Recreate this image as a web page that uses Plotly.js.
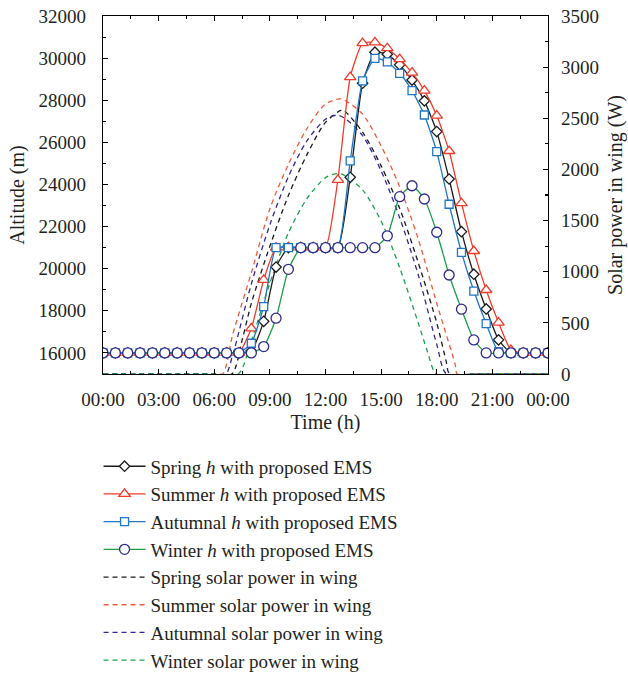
<!DOCTYPE html>
<html>
<head>
<meta charset="utf-8">
<script src="https://cdn.plot.ly/plotly-3.0.1.min.js"></script>
<style>
  html, body { margin: 0; padding: 0; background: #fff; }
  #chart { width: 628px; height: 673px; }
</style>
</head>
<body>
<div id="chart"></div>
<script>
// Flight altitude samples, one every 40 minutes (hours of the day)
const altHours = [0, 0.667, 1.333, 2, 2.667, 3.333, 4, 4.667, 5.333, 6, 6.667, 7.333,
  8, 8.667, 9.333, 10, 10.667, 11.333, 12, 12.667, 13.333, 14, 14.667, 15.333,
  16, 16.667, 17.333, 18, 18.667, 19.333, 20, 20.667, 21.333, 22, 22.667, 23.333, 24];

const springAlt = [16000, 16000, 16000, 16000, 16000, 16000, 16000, 16000, 16000, 16000, 16000, 16000,
  16100, 17500, 20080, 21000, 21000, 21000, 21000, 21000, 24340, 28810, 30280, 30180,
  29680, 28960, 27970, 26510, 24260, 21760, 19740, 18090, 16620, 16000, 16000, 16000, 16000];

const summerAlt = [16000, 16000, 16000, 16000, 16000, 16000, 16000, 16000, 16000, 16000, 16000, 16000,
  17170, 19470, 21000, 21000, 21000, 21000, 21000, 24220, 29100, 30710, 30750, 30470,
  29950, 29310, 28460, 27270, 25590, 23110, 20840, 18990, 17440, 16140, 16000, 16000, 16000];

const autumnAlt = [16000, 16000, 16000, 16000, 16000, 16000, 16000, 16000, 16000, 16000, 16000, 16000,
  16460, 18200, 21000, 21000, 21000, 21000, 21000, 21000, 25120, 28920, 29990, 29820,
  29280, 28460, 27300, 25560, 23060, 20780, 18940, 17390, 16050, 16000, 16000, 16000, 16000];

const winterAlt = [16000, 16000, 16000, 16000, 16000, 16000, 16000, 16000, 16000, 16000, 16000, 16000,
  16000, 16300, 17650, 19970, 21000, 21000, 21000, 21000, 21000, 21000, 21000, 21560,
  23420, 23940, 23310, 21730, 19700, 18080, 16620, 16000, 16000, 16000, 16000, 16000, 16000];

// Solar power collected by the wing (W)
const springPowHours = [0, 6, 6.95, 7.5, 8, 9, 10, 11, 12, 12.85, 13, 14, 15, 16, 17, 18, 18.5, 18.7, 20, 24];
const springPow      = [0, 0, 0, 330, 690, 1250, 1745, 2145, 2460, 2580, 2575, 2365, 2035, 1620, 1090, 500, 130, 0, 0, 0];

const summerPowHours = [0, 6, 6.45, 7, 8, 9, 10, 11, 12, 12.75, 13, 14, 15, 16, 17, 18, 19, 19.1, 20, 24];
const summerPow      = [0, 0, 0, 390, 990, 1615, 2050, 2400, 2640, 2690, 2680, 2540, 2230, 1830, 1320, 690, 90, 0, 0, 0];

const autumnPowHours = [0, 6, 6.62, 7, 8, 9, 10, 11, 12, 12.57, 13, 14, 15, 16, 17, 18, 18.53, 20, 24];
const autumnPow      = [0, 0, 0, 190, 880, 1460, 1930, 2280, 2490, 2530, 2505, 2330, 1985, 1528, 970, 290, 0, 0, 0];

const winterPowHours = [0, 6, 7.29, 8, 9, 10, 11, 12, 12.64, 13, 14, 15, 16, 17, 17.5, 17.99, 20, 24];
const winterPow      = [0, 0, 0, 325, 890, 1380, 1715, 1920, 1960, 1945, 1800, 1495, 1040, 500, 220, 0, 0, 0];

const xTickVals = [0, 3, 6, 9, 12, 15, 18, 21, 24];
const xTickText = ['00:00', '03:00', '06:00', '09:00', '12:00', '15:00', '18:00', '21:00', '00:00'];

const FONT = 'Liberation Serif, Times New Roman, serif';
const INK = '#231f20';

function powerTrace(name, xs, ys, color, rank) {
  return {
    x: xs, y: ys, name: name, yaxis: 'y', type: 'scatter', mode: 'lines',
    line: { color: color, width: 1.3, dash: '5px,4px', shape: 'spline', smoothing: 0.8 },
    legendrank: rank, hoverinfo: 'skip'
  };
}

function altTrace(name, ys, lineColor, symbol, size, edgeColor, rank) {
  return {
    x: altHours, y: ys, name: name, yaxis: 'y2', type: 'scatter', mode: 'lines+markers',
    line: { color: lineColor, width: 1.3, shape: 'spline', smoothing: 0.5 },
    marker: { symbol: symbol, size: size, color: '#ffffff', line: { color: edgeColor, width: 1.3 } },
    legendrank: rank, hoverinfo: 'skip'
  };
}

const data = [
  powerTrace('Spring solar power in wing', springPowHours, springPow, '#1a1a1a', 5),
  powerTrace('Summer solar power in wing', summerPowHours, summerPow, '#f25a3c', 6),
  powerTrace('Autumnal solar power in wing', autumnPowHours, autumnPow, '#33279a', 7),
  powerTrace('Winter solar power in wing', winterPowHours, winterPow, '#1aa24a', 8),
  altTrace('Spring <i>h</i> with proposed EMS', springAlt, '#1a1a1a', 'diamond', 8, '#1a1a1a', 1),
  altTrace('Summer <i>h</i> with proposed EMS', summerAlt, '#f03a2a', 'triangle-up', 10, '#f03a2a', 2),
  altTrace('Autumnal <i>h</i> with proposed EMS', autumnAlt, '#1f76c6', 'square', 8, '#1f76c6', 3),
  altTrace('Winter <i>h</i> with proposed EMS', winterAlt, '#1a9e48', 'circle', 10, '#2d2a8f', 4)
];

const axisCommon = {
  automargin: false,
  showline: true, linecolor: '#000', linewidth: 1.2,
  showgrid: false, zeroline: false,
  ticks: 'inside', ticklen: 5, tickwidth: 1.1, tickcolor: '#000',
  tickfont: { family: FONT, size: 19, color: INK }
};

const layout = {
  width: 628, height: 673,
  margin: { l: 103, r: 80, t: 16, b: 299, autoexpand: false },
  paper_bgcolor: '#fff', plot_bgcolor: '#fff',
  font: { family: FONT, color: INK },
  showlegend: true,
  legend: {
    x: -0.01, y: -0.205, xanchor: 'left', yanchor: 'top',
    font: { family: FONT, size: 19, color: INK },
    itemwidth: 42,
    traceorder: 'normal', bgcolor: 'rgba(0,0,0,0)', borderwidth: 0,
    tracegroupgap: 0
  },
  xaxis: Object.assign({}, axisCommon, {
    range: [0, 24], tickmode: 'array', tickvals: xTickVals, ticktext: xTickText,
    mirror: 'ticks', ticklabelstandoff: 8,
    minor: { tickmode: 'linear', tick0: 0, dtick: 1.5, ticks: 'inside', ticklen: 3, tickcolor: '#000' },
    title: { text: 'Time (h)', font: { family: FONT, size: 20, color: INK }, standoff: 6 }
  }),
  yaxis: Object.assign({}, axisCommon, {
    side: 'right', range: [0, 3500], tickmode: 'linear', tick0: 0, dtick: 500, tickformat: 'd',
    ticklabelstandoff: 8,
    minor: { tickmode: 'linear', tick0: 0, dtick: 250, ticks: 'inside', ticklen: 3, tickcolor: '#000' },
    title: { text: 'Solar power in wing (W)', font: { family: FONT, size: 20, color: INK }, standoff: 10 }
  }),
  yaxis2: Object.assign({}, axisCommon, {
    overlaying: 'y', side: 'left', range: [15000, 32000],
    tickmode: 'linear', tick0: 16000, dtick: 2000, tickformat: 'd',
    ticklabelstandoff: 12,
    minor: { tickmode: 'linear', tick0: 15000, dtick: 1000, ticks: 'inside', ticklen: 3, tickcolor: '#000' },
    title: { text: 'Altitude (m)', font: { family: FONT, size: 20, color: INK }, standoff: 8 }
  })
};

Plotly.newPlot('chart', data, layout, { staticPlot: true, displayModeBar: false });
</script>
</body>
</html>
